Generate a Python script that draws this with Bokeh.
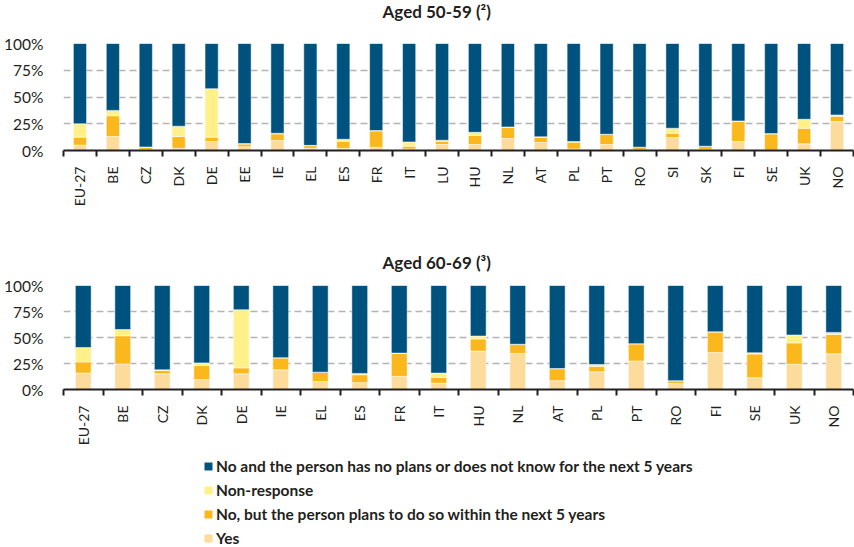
import math
from bokeh.plotting import figure
from bokeh.layouts import column
from bokeh.models import (ColumnDataSource, Range1d, FixedTicker, PrintfTickFormatter,
                          Legend, LegendItem)
from bokeh.embed import file_html
from bokeh.resources import INLINE

# ---------------- data ----------------
cats_50 = ["EU-27", "BE", "CZ", "DK", "DE", "EE", "IE", "EL", "ES", "FR", "IT", "LU",
           "HU", "NL", "AT", "PL", "PT", "RO", "SI", "SK", "FI", "SE", "UK", "NO"]
yes_50      = [5.0, 13.0, 1.0, 2.0, 8.4, 3.5, 9.3, 2.0, 2.0, 3.0, 1.5, 5.6,
               5.6, 11.2, 7.5, 1.5, 5.6, 0.8, 12.1, 1.0, 8.4, 0.5, 6.2, 27.0]
plans_50    = [7.5, 19.5, 2.0, 11.0, 4.0, 2.5, 6.2, 2.5, 6.7, 15.3, 2.5, 3.1,
               8.4, 10.5, 4.9, 6.3, 9.3, 2.0, 4.0, 2.7, 18.9, 15.0, 14.6, 5.0]
nonresp_50  = [12.5, 5.0, 0.3, 9.7, 45.4, 0.5, 0.6, 0.3, 1.8, 0.4, 4.0, 0.9,
               3.0, 0.3, 0.4, 0.6, 0.3, 0.3, 4.7, 0.3, 0.3, 0.3, 8.4, 1.2]
noplans_50  = [75.0, 62.5, 96.7, 77.3, 42.2, 93.5, 83.9, 95.2, 89.5, 81.3, 92.0, 90.4,
               83.0, 78.0, 87.2, 91.6, 84.8, 96.9, 79.2, 96.0, 72.4, 84.2, 70.8, 66.8]

cats_60 = ["EU-27", "BE", "CZ", "DK", "DE", "IE", "EL", "ES", "FR", "IT",
           "HU", "NL", "AT", "PL", "PT", "RO", "FI", "SE", "UK", "NO"]
yes_60      = [15.8, 24.6, 15.1, 9.5, 15.1, 18.9, 7.6, 6.6, 12.6, 6.0,
               36.9, 34.7, 8.5, 17.0, 27.4, 5.7, 35.6, 11.4, 24.3, 34.4]
plans_60    = [10.7, 27.1, 3.2, 13.5, 5.7, 11.4, 8.8, 7.6, 22.1, 5.7,
               11.7, 8.5, 11.4, 5.1, 16.4, 2.5, 19.6, 22.7, 20.5, 18.6]
nonresp_60  = [13.9, 6.0, 0.6, 2.6, 55.9, 0.3, 0.3, 1.3, 0.3, 4.1,
               2.8, 0.3, 0.3, 1.9, 0.3, 0.3, 0.3, 1.2, 7.6, 1.9]
noplans_60  = [59.6, 42.3, 81.1, 74.4, 23.3, 69.4, 83.3, 84.5, 65.0, 84.2,
               48.6, 56.5, 79.8, 76.0, 55.9, 91.5, 44.5, 64.7, 47.6, 45.1]

series_keys = ["yes", "plans", "nonresp", "noplans"]
series_labels = ["Yes",
                 "No, but the person plans to do so within the next 5 years",
                 "Non-response",
                 "No and the person has no plans or does not know for the next 5 years"]
y_ticks = [0, 25, 50, 75, 100]

# ---------------- style ----------------
colors = ["#FDDB9B", "#FBB81C", "#FFF08A", "#00527E"]
FONT = "Lato"
DARK = "#231F20"
W = 854


def make_panel(title, cats, yes, plans, nonresp, noplans, height, top, bottom, standoff,
               line_height=None):
    n = len(cats)
    xs = list(range(n))
    src = ColumnDataSource(dict(x=xs, yes=yes, plans=plans, nonresp=nonresp, noplans=noplans))
    p = figure(width=W, height=height, output_backend="svg", toolbar_location=None,
               x_range=Range1d(-0.5, n - 0.5), y_range=Range1d(0, 100),
               min_border_left=63, min_border_right=1, min_border_top=top,
               min_border_bottom=bottom, title=title)
    p.outline_line_color = None
    p.background_fill_color = "white"
    p.border_fill_color = "white"
    p.title.align = "left"
    p.title.offset = 319
    p.title.vertical_align = "top"
    p.title.text_font = FONT
    p.title.text_font_size = "17px"
    p.title.text_font_style = "bold"
    p.title.text_color = DARK
    p.title.standoff = standoff
    if line_height is not None:
        try:
            p.title.text_line_height = line_height
        except Exception:
            pass

    p.vbar_stack(series_keys, x="x", width=0.4, source=src, color=colors,
                 line_color="white", line_width=0.5)

    # x axis: labels at centres, ticks at boundaries
    xa = p.xaxis[0]
    xa.ticker = FixedTicker(ticks=xs, minor_ticks=[i - 0.5 for i in range(n + 1)])
    xa.major_label_overrides = {i: c for i, c in enumerate(cats)}
    xa.major_label_orientation = math.pi / 2
    xa.major_tick_line_color = None
    xa.minor_tick_line_color = DARK
    xa.minor_tick_line_width = 2
    xa.minor_tick_out = 6
    xa.minor_tick_in = 0
    xa.axis_line_color = DARK
    xa.axis_line_width = 2
    xa.major_label_text_font = FONT
    xa.major_label_text_font_size = "14px"
    xa.major_label_text_color = DARK
    xa.major_label_standoff = 10

    ya = p.yaxis[0]
    ya.ticker = FixedTicker(ticks=y_ticks)
    ya.formatter = PrintfTickFormatter(format="%d%%")
    ya.axis_line_color = None
    ya.major_tick_line_color = None
    ya.minor_tick_line_color = None
    ya.major_label_text_font = FONT
    ya.major_label_text_font_size = "15.5px"
    ya.major_label_text_color = DARK
    ya.major_label_standoff = 14

    p.xgrid.grid_line_color = None
    p.ygrid.ticker = FixedTicker(ticks=y_ticks[1:])
    p.ygrid.grid_line_color = "#B3B3B3"
    p.ygrid.grid_line_width = 1.5
    p.ygrid.grid_line_dash = "7 4"
    return p, src


# the trailing empty line keeps the first title higher above its frame
p1, _ = make_panel("Aged 50-59 (²)\n", cats_50, yes_50, plans_50, nonresp_50, noplans_50,
                   height=240, top=42, bottom=90, standoff=0, line_height=0.95)
p2, src2 = make_panel("Aged 60-69 (³)", cats_60, yes_60, plans_60, nonresp_60, noplans_60,
                      height=208, top=44, bottom=58, standoff=22)

# legend panel: hidden copies of the series, used only to supply legend glyphs
p3 = figure(width=W, height=99, output_backend="svg", toolbar_location=None,
            x_range=Range1d(-0.5, 19.5), y_range=Range1d(0, 100),
            min_border_left=63, min_border_right=1, min_border_top=0, min_border_bottom=0)
p3.axis.visible = False
p3.grid.visible = False
p3.outline_line_color = None
rs3 = p3.vbar_stack(series_keys, x="x", width=0.4, source=src2, color=colors,
                    line_color=None)
for r in rs3:
    r.visible = False
items = [LegendItem(label=series_labels[i], renderers=[rs3[i]]) for i in [3, 2, 1, 0]]
legend = Legend(items=items, location=(140, 0), orientation="vertical")
legend.border_line_color = None
legend.background_fill_alpha = 0
legend.glyph_width = 10
legend.glyph_height = 10
legend.label_text_font = FONT
legend.label_text_font_size = "15.5px"
legend.label_text_font_style = "bold"
legend.label_text_color = DARK
legend.label_height = 15
legend.label_standoff = 3
legend.spacing = 6
legend.padding = 0
legend.margin = 0
p3.add_layout(legend, "center")

layout = column(p1, p2, p3, spacing=0)
html = file_html(layout, INLINE)
open("out.html", "w").write(html)
